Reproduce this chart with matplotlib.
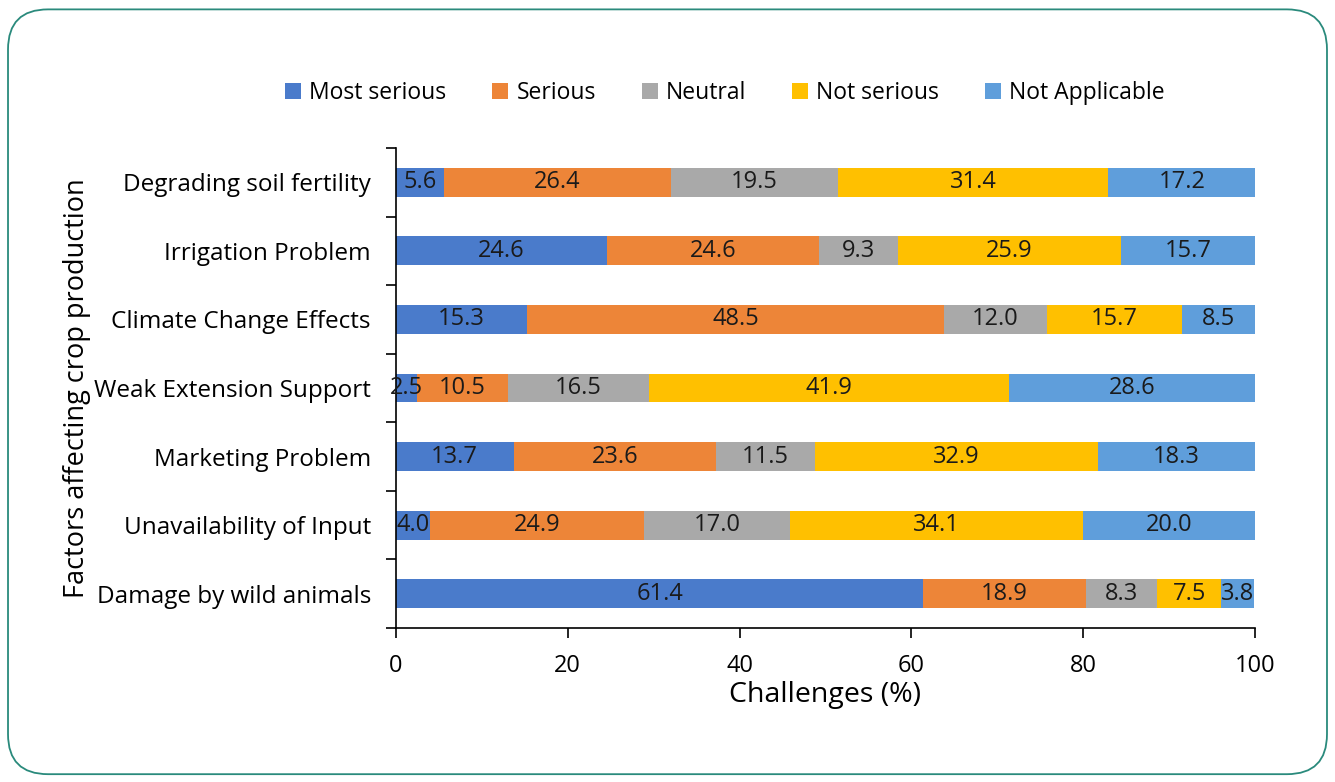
import matplotlib.pyplot as plt
from matplotlib.patches import FancyBboxPatch
import numpy as np

plt.rcParams['font.family'] = ['Open Sans', 'DejaVu Sans']

factors = ["Degrading soil fertility", "Irrigation Problem", "Climate Change Effects",
           "Weak Extension Support", "Marketing Problem", "Unavailability of Input",
           "Damage by wild animals"]
levels = ["Most serious", "Serious", "Neutral", "Not serious", "Not Applicable"]
most_serious = [5.6, 24.6, 15.3, 2.5, 13.7, 4.0, 61.4]
serious = [26.4, 24.6, 48.5, 10.5, 23.6, 24.9, 18.9]
neutral = [19.5, 9.3, 12.0, 16.5, 11.5, 17.0, 8.3]
not_serious = [31.4, 25.9, 15.7, 41.9, 32.9, 34.1, 7.5]
not_applicable = [17.2, 15.7, 8.5, 28.6, 18.3, 20.0, 3.8]
colors = ["#4a7bcb", "#ed8538", "#a9a9a9", "#ffc000", "#5f9edb"]

series = [most_serious, serious, neutral, not_serious, not_applicable]

fig = plt.figure(figsize=(13.35, 7.82), dpi=100)
ax = fig.add_axes([0.2966, 0.1969, 0.6434, 0.6138])

# rounded frame round the whole figure
frame = FancyBboxPatch((0.006, 0.01), 0.988, 0.978, boxstyle="round,pad=0,rounding_size=0.03",
                       transform=fig.transFigure, fill=False, edgecolor="#2a8a7c", linewidth=1.3,
                       mutation_aspect=1335 / 782)
fig.patches.append(frame)

y = np.arange(len(factors))
left = np.zeros(len(factors))
for vals, lab, col in zip(series, levels, colors):
    ax.barh(y, vals, left=left, height=0.42, color=col, label=lab)
    for i, v in enumerate(vals):
        ax.text(left[i] + v / 2, y[i], f"{v:.1f}", ha="center", va="center",
                fontsize=17, color="#1a1a1a")
    left += np.array(vals)

ax.set_xlim(0, 100)
ax.set_ylim(len(factors) - 0.5, -0.5)
ax.set_xticks(range(0, 101, 20))
ax.set_yticks(y)
ax.set_yticklabels(factors)
ax.set_yticks(np.arange(-0.5, len(factors)), minor=True)
ax.tick_params(axis="y", which="major", length=0, labelsize=17.5, pad=18)
ax.tick_params(axis="y", which="minor", length=7, width=1.2, direction="out")
ax.tick_params(axis="x", length=7, width=1.2, direction="out", labelsize=17, pad=12)
for s in ["top", "right"]:
    ax.spines[s].set_visible(False)
for s in ["left", "bottom"]:
    ax.spines[s].set_linewidth(1.2)

ax.set_xlabel("Challenges (%)", fontsize=20.5, labelpad=2)
ax.set_ylabel("Factors affecting crop production", fontsize=19.5, labelpad=2)

fig.legend(loc="center", bbox_to_anchor=(0.543, 0.881), ncol=5, frameon=False,
           fontsize=16.5, handlelength=0.7, handleheight=0.7, handletextpad=0.35,
           columnspacing=2.0)

fig.savefig("out.png", dpi=100)
